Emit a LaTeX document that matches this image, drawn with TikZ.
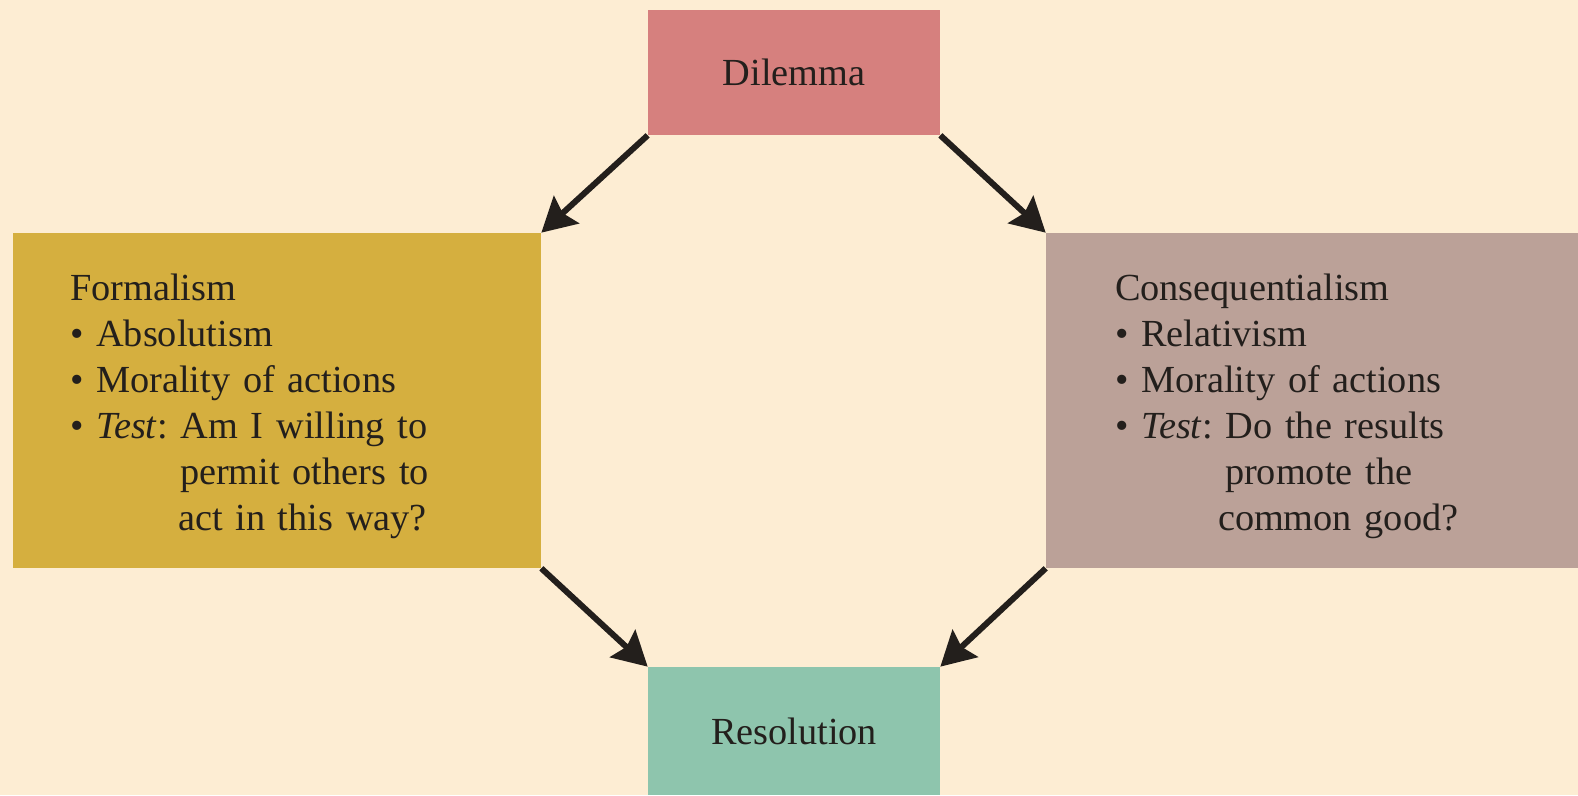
\documentclass[tikz,border=0pt]{standalone}
\usepackage{fontspec}
\setmainfont{Liberation Serif}
\usetikzlibrary{arrows.meta}
\definecolor{bgcream}{HTML}{FDEDD3}
\definecolor{dilred}{HTML}{D6807E}
\definecolor{formgold}{HTML}{D5AF3F}
\definecolor{consmauve}{HTML}{BBA198}
\definecolor{resgreen}{HTML}{8EC5AD}
\definecolor{inkdark}{HTML}{231F1C}
\frenchspacing
\begin{document}
\begin{tikzpicture}[x=0.02cm, y=-0.02cm,
  box/.style={rectangle, inner sep=0pt, font=\fontsize{21.8}{26.2}\selectfont, text=inkdark},
  arr/.style={-{Stealth[length=0.68cm, width=0.74cm, inset=0.1cm]}, line width=0.12cm, draw=inkdark}]
\fill[bgcream] (0,0) rectangle (1578,795);
\useasboundingbox (0,0) rectangle (1578,795);
\node[box, fill=dilred, minimum width=5.84cm, minimum height=2.5cm] (dilemma) at (794,72.5){Dilemma};
\node[box, fill=formgold, minimum width=10.56cm, minimum height=6.7cm, text width=8.28cm, inner xsep=1.14cm, align=left] (formal) at (277,400.5){\rule{0pt}{0.78cm}Formalism\\
\textbullet\ Absolutism\\
\textbullet\ Morality of actions\\
\textbullet\ \textit{Test}: Am I willing to\\
\hspace*{2.2cm}permit others to\\
\hspace*{2.16cm}act in this way?};
\node[box, fill=consmauve, minimum width=10.64cm, minimum height=6.7cm, text width=7.88cm, inner xsep=1.38cm, align=left] (conseq) at (1312,400.5){\rule{0pt}{0.78cm}Consequentialism\\
\textbullet\ Relativism\\
\textbullet\ Morality of actions\\
\textbullet\ \textit{Test}: Do the results\\
\hspace*{2.2cm}promote the\\
\hspace*{2.06cm}common good?};
\node[box, fill=resgreen, minimum width=5.84cm, minimum height=2.56cm] (resol) at (794,731){Resolution};
\draw[arr] (dilemma.south west) -- (formal.north east);
\draw[arr] (dilemma.south east) -- (conseq.north west);
\draw[arr] (formal.south east) -- (resol.north west);
\draw[arr] (conseq.south west) -- (resol.north east);
\end{tikzpicture}
\end{document}
